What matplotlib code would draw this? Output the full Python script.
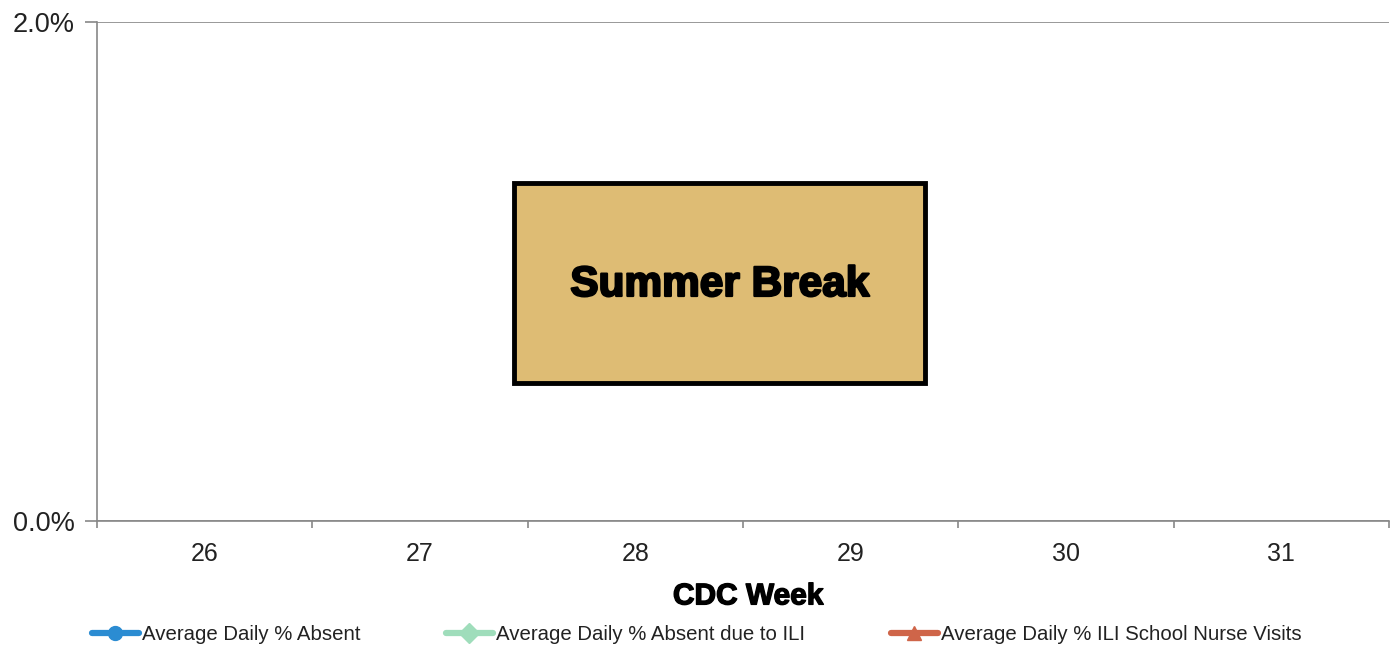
import numpy as np
import matplotlib
matplotlib.use("Agg")
import matplotlib.pyplot as plt
from matplotlib.patches import Rectangle
import matplotlib.patheffects as pe

# ---- data ----
weeks = [26, 27, 28, 29, 30, 31]
absent = [np.nan] * 6            # no data: summer break
absent_ili = [np.nan] * 6
nurse_ili = [np.nan] * 6
series_names = ["Average Daily % Absent",
                "Average Daily % Absent due to ILI",
                "Average Daily % ILI School Nurse Visits"]
series_colors = ["#2B8CD2", "#9FDDBB", "#CF6549"]
series_markers = ["o", "D", "^"]
y_ticks = [0.0, 2.0]
note = "Summer Break"

plt.rcParams['font.family'] = ['Liberation Sans', 'DejaVu Sans']

fig = plt.figure(figsize=(13.93, 6.48), dpi=100)
ax = fig.add_axes([97/1393, 1 - 521/648, (1389-97)/1393, (521-22)/648])

x = np.arange(len(weeks))
lines = []
for vals, name, col, mk in zip([absent, absent_ili, nurse_ili], series_names,
                               series_colors, series_markers):
    ln, = ax.plot(x, vals, color=col, lw=4.5, marker=mk, ms=10,
                  solid_capstyle='round', label=name)
    lines.append(ln)

ax.set_xlim(-0.5, len(weeks) - 0.5)
ax.set_ylim(0, 2.0)
ax.set_yticks(y_ticks)
ax.set_yticklabels([f"{v:.1f}%" for v in y_ticks], fontsize=19.5, color="#222222")
ax.set_xticks(x)
ax.set_xticklabels([str(w) for w in weeks], fontsize=18, color="#222222")
ax.set_xticks(np.arange(len(weeks) + 1) - 0.5, minor=True)
ax.tick_params(axis='x', which='major', length=0, pad=15)
ax.tick_params(axis='x', which='minor', length=5, width=1.2, color="#888888")
ax.tick_params(axis='y', which='major', length=9, width=1.2, color="#888888", pad=7)

ax.grid(axis='y', color="#888888", lw=1.2)
ax.set_axisbelow(True)
for s in ['top', 'right']:
    ax.spines[s].set_visible(False)
for s in ['left', 'bottom']:
    ax.spines[s].set_color("#888888")
    ax.spines[s].set_linewidth(1.2)

ax.set_xlabel("CDC Week", fontsize=21.5, fontweight='bold', labelpad=10,
              path_effects=[pe.withStroke(linewidth=1.0, foreground='black')])
ax.xaxis.set_label_coords((748-97)/1292, -0.123)

# Summer break box (axes-fraction placement)
box = Rectangle(((514-97)/1292, (521-383)/499), (925-514)/1292, (383-183)/499,
                transform=ax.transAxes, facecolor="#DEBC74", edgecolor="black",
                lw=3.5, zorder=5)
ax.add_patch(box)
ax.text((720-97)/1292, (521-285)/499, note, transform=ax.transAxes,
        ha='center', va='center', fontsize=30.5, fontweight='bold', zorder=6,
        path_effects=[pe.withStroke(linewidth=1.6, foreground='black')])

leg = fig.legend(handles=lines, loc='center', bbox_to_anchor=(0.5, 1 - 635/648),
                 ncol=3, frameon=False, fontsize=14.7, handlelength=2.3,
                 handletextpad=0.15, columnspacing=4.2)
for t in leg.get_texts():
    t.set_color("#222222")

fig.savefig("out.png", dpi=100)
